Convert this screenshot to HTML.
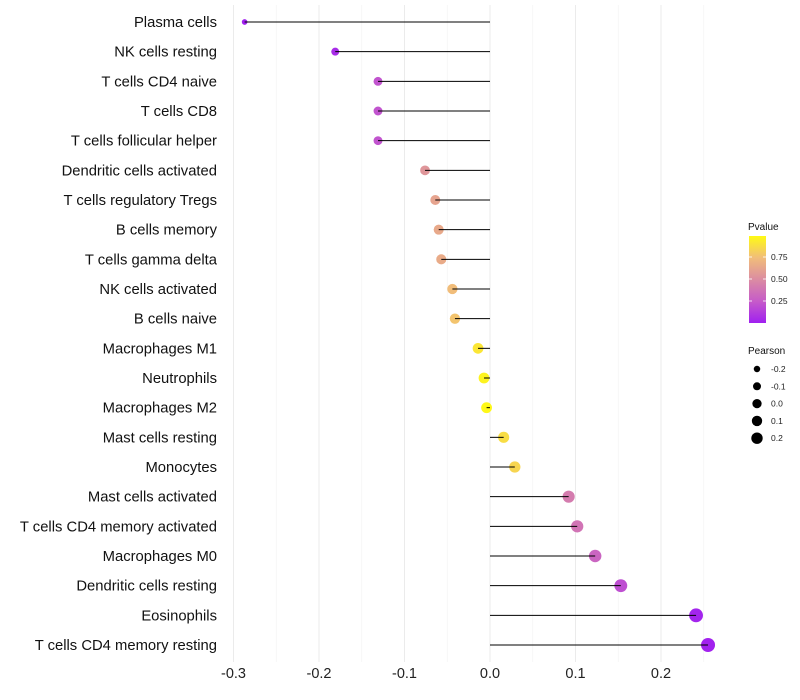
<!DOCTYPE html>
<html><head><meta charset="utf-8"><style>
html,body{margin:0;padding:0;background:#fff;}
svg{display:block;font-family:"Liberation Sans",sans-serif;}
</style></head><body>
<svg id="chart" width="800" height="700"></svg>
<script>
const categories=["Plasma cells","NK cells resting","T cells CD4 naive","T cells CD8","T cells follicular helper","Dendritic cells activated","T cells regulatory  Tregs ","B cells memory","T cells gamma delta","NK cells activated","B cells naive","Macrophages M1","Neutrophils","Macrophages M2","Mast cells resting","Monocytes","Mast cells activated","T cells CD4 memory activated","Macrophages M0","Dendritic cells resting","Eosinophils","T cells CD4 memory resting"];
const pearson=[-0.287,-0.181,-0.131,-0.131,-0.131,-0.076,-0.064,-0.060,-0.057,-0.044,-0.041,-0.014,-0.007,-0.004,0.016,0.029,0.092,0.102,0.123,0.153,0.241,0.255];
const pvalues=[0.0,0.05,0.22,0.22,0.22,0.55,0.62,0.65,0.66,0.75,0.78,0.92,0.97,0.99,0.88,0.85,0.42,0.38,0.3,0.2,0.02,0.01];
const xTicks=[-0.3,-0.2,-0.1,0.0,0.1,0.2];
const xTickLabels=["-0.3","-0.2","-0.1","0.0","0.1","0.2"];
const pTicks=[0.25,0.5,0.75];
const sizeLegend=[-0.2,-0.1,0.0,0.1,0.2];

const NS="http://www.w3.org/2000/svg";
const svg=document.getElementById('chart');
function mk(t,a,p){const e=document.createElementNS(NS,t);for(const k in a)e.setAttribute(k,a[k]);(p||svg).appendChild(e);return e;}
const x=v=>490+v*855;
const y=i=>22+i*29.667;
const rad=v=>Math.max(1.7,Math.sqrt(Math.max(1,29.7+75.9*v)));
const stops=[[0,[160,32,240]],[0.25,[198,91,201]],[0.5,[219,140,162]],[0.75,[241,189,122]],[1,[255,250,20]]];
function col(p){
  let a=stops[0],b=stops[1];
  for(let k=0;k<stops.length-1;k++){if(p>=stops[k][0]&&p<=stops[k+1][0]){a=stops[k];b=stops[k+1];}}
  const t=(p-a[0])/(b[0]-a[0]);
  const c=a[1].map((v,k)=>Math.round(v+(b[1][k]-v)*t));
  return `rgb(${c[0]},${c[1]},${c[2]})`;
}
// grid
for(let v=-0.3;v<=0.25;v+=0.05){
  const major=Math.abs(Math.round(v*20))%2===0;
  const g=mk('line',{x1:x(v),x2:x(v),y1:5,y2:662,stroke:major?'#ebebeb':'#f4f4f4','stroke-width':major?1:0.7});
  
  
}
xTicks.forEach((v,i)=>{
  const t=mk('text',{x:x(v),y:678,'text-anchor':'middle','font-size':14.5,fill:'#222'});
  t.textContent=xTickLabels[i];
  
  
});
categories.forEach((c,i)=>{
  const t=mk('text',{x:217,y:y(i)+5,'text-anchor':'end','font-size':14.8,fill:'#111'});
  t.textContent=c;
  
  
  const d=mk('circle',{cx:x(pearson[i]),cy:y(i),r:rad(pearson[i]),fill:col(pvalues[i])});
  
  
  const s=mk('line',{x1:x(0),x2:x(pearson[i]),y1:y(i),y2:y(i),stroke:'#000','stroke-width':1});
  
  
});
// color legend
const lg=mk('g',{});


const lt=mk('text',{x:748,y:230,'font-size':10,fill:'#111'},lg);lt.textContent='Pvalue';
const defs=mk('defs',{});
const gr=mk('linearGradient',{id:'pg',x1:0,y1:1,x2:0,y2:0},defs);
stops.forEach(s=>mk('stop',{offset:String(s[0]),"stop-color":col(s[0])},gr));
mk('rect',{x:749,y:236,width:17,height:87,fill:'url(#pg)'},lg);
const py=p=>323-p*88;
pTicks.forEach(p=>{
  mk('line',{x1:749,x2:752,y1:py(p),y2:py(p),stroke:'#fff','stroke-width':0.8},lg);
  mk('line',{x1:763,x2:766,y1:py(p),y2:py(p),stroke:'#fff','stroke-width':0.8},lg);
  const t=mk('text',{x:771,y:py(p)+3,'font-size':8.5,fill:'#222'},lg);t.textContent=p.toFixed(2);
});
// size legend
const sg=mk('g',{});


const st=mk('text',{x:748,y:354,'font-size':10,fill:'#111'},sg);st.textContent='Pearson';
sizeLegend.forEach((v,i)=>{
  const cy=369+i*17.3;
  mk('circle',{cx:757,cy:cy,r:rad(v)*0.85,fill:'#000'},sg);
  const t=mk('text',{x:771,y:cy+3,'font-size':8.5,fill:'#222'},sg);t.textContent=v.toFixed(1);
});
</script>
</body></html>
